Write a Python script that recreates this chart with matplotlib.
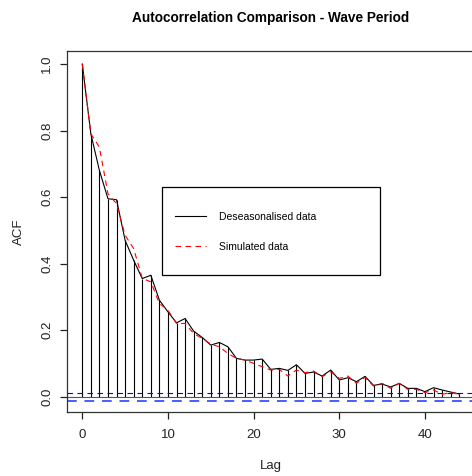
import matplotlib
matplotlib.use("Agg")
import matplotlib.pyplot as plt
from matplotlib.patches import Rectangle
import numpy as np

plt.rcParams['font.family'] = ['Liberation Sans', 'DejaVu Sans']

lags = list(range(0, 45))
acf_deseasonalised = [1.0, 0.79, 0.68, 0.595, 0.592, 0.47, 0.41, 0.355, 0.365, 0.29,
                      0.255, 0.222, 0.235, 0.197, 0.178, 0.155, 0.163, 0.15, 0.115, 0.11,
                      0.11, 0.113, 0.082, 0.085, 0.079, 0.096, 0.07, 0.074, 0.062, 0.08,
                      0.05, 0.057, 0.045, 0.061, 0.034, 0.038, 0.029, 0.04, 0.025, 0.025,
                      0.015, 0.027, 0.02, 0.014, 0.008]
acf_simulated = [1.0, 0.79, 0.75, 0.61, 0.58, 0.485, 0.445, 0.356, 0.345, 0.28,
                 0.26, 0.22, 0.22, 0.19, 0.175, 0.158, 0.15, 0.13, 0.115, 0.11,
                 0.1, 0.09, 0.08, 0.082, 0.062, 0.08, 0.072, 0.077, 0.06, 0.075,
                 0.055, 0.062, 0.04, 0.058, 0.032, 0.04, 0.025, 0.04, 0.022, 0.022,
                 0.012, 0.02, 0.007, 0.013, 0.007]
ci = 0.0118
yticks = [0.0, 0.2, 0.4, 0.6, 0.8, 1.0]
xticks = [0, 10, 20, 30, 40]
legend_labels = ["Deseasonalised data", "Simulated data"]

W, H = 472, 476
fig = plt.figure(figsize=(W / 100, H / 100), dpi=100)
left, right, top, bottom = 67.2, 474.3, 50.7, 412.3
ax = fig.add_axes([left / W, 1 - bottom / H, (right - left) / W, (bottom - top) / H])

ax.vlines(lags, 0, acf_deseasonalised, color='black', lw=0.8)
ax.axhline(0, color='#555555', lw=0.8)
ax.axhline(ci, color='blue', lw=0.8, ls=(0, (5, 4)))
ax.axhline(-ci, color='#4a5cff', lw=1.4, ls=(0, (5, 4)))
l1, = ax.plot(lags, acf_deseasonalised, color='black', lw=0.8)
l2, = ax.plot(lags, acf_simulated, color='red', lw=0.8, ls=(0, (5, 4)))

ax.set_xlim(-1.76, 45.76)
ax.set_ylim(-0.047, 1.04)
ax.set_xticks(xticks)
ax.set_yticks(yticks)
ax.set_yticklabels([f"{v:.1f}" for v in yticks], rotation=90, va='center')
ax.tick_params(axis='both', direction='out', length=5, width=0.9, labelsize=9.5,
               colors='#222222')
ax.tick_params(axis='y', pad=5)
ax.tick_params(axis='x', pad=7)
for s in ax.spines.values():
    s.set_color('#333333')
    s.set_linewidth(0.9)
ax.spines['right'].set_visible(False)

ax.set_title("Autocorrelation Comparison - Wave Period", fontsize=9.8,
             fontweight='bold', pad=21)
ax.set_xlabel("Lag", fontsize=9.5, labelpad=14, color='#222222')
ax.set_ylabel("ACF", fontsize=9.5, labelpad=12, color='#222222')

# legend frame
rect = Rectangle((162 / W, 1 - 275 / H), (380 - 162) / W, (275 - 187) / H,
                 transform=fig.transFigure, fill=False, edgecolor='black', lw=0.9)
fig.patches.append(rect)
fig.legend([l1, l2], legend_labels, loc='upper left',
           bbox_to_anchor=(175 / W, 1 - 212 / H), frameon=False, fontsize=7.5,
           borderpad=0, borderaxespad=0, handlelength=3.0, handletextpad=1.2,
           labelspacing=1.9)

fig.savefig("out.png", dpi=100)
